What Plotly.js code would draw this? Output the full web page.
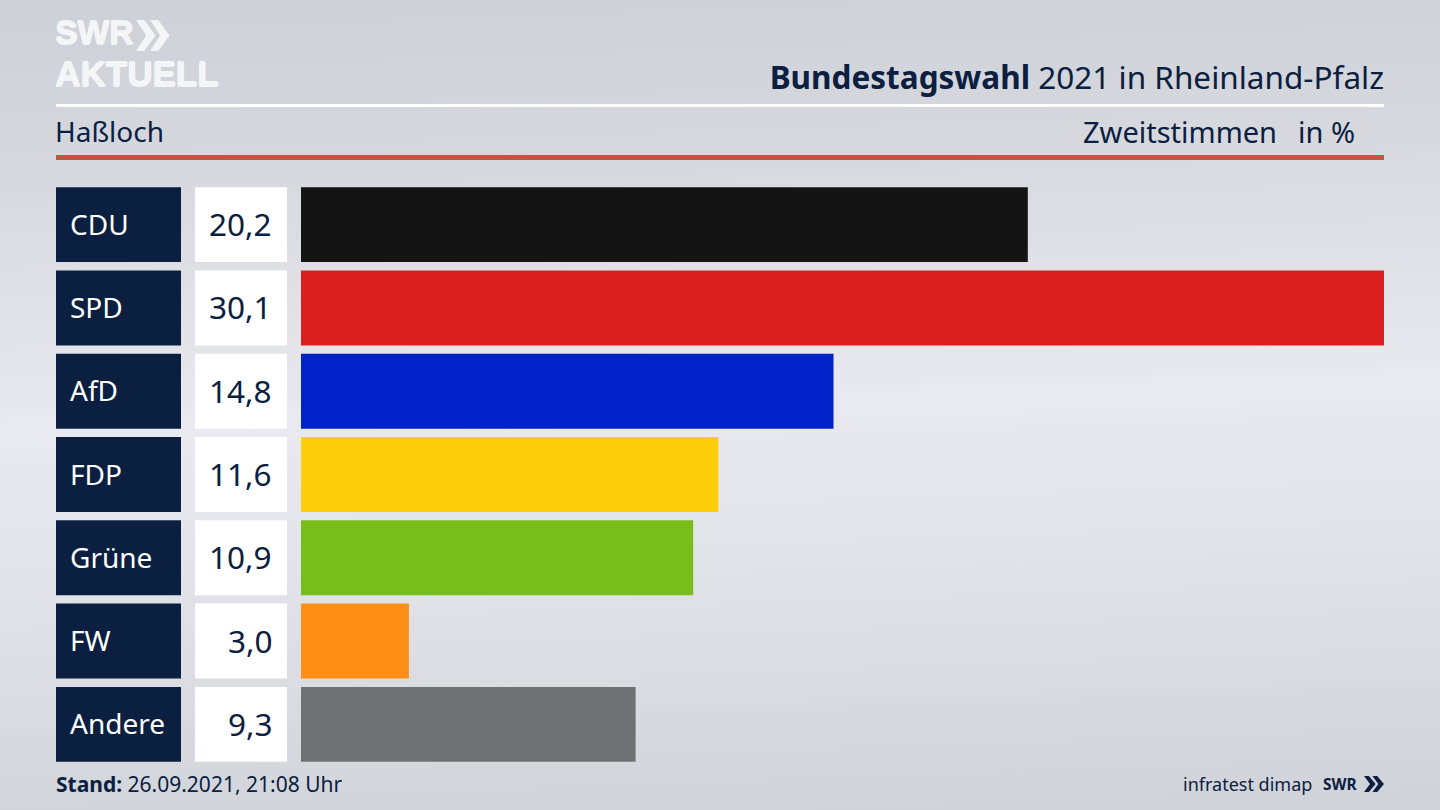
<!DOCTYPE html>
<html><head><meta charset="utf-8">
<script src="https://cdn.plot.ly/plotly-3.0.1.min.js"></script>
<style>
html,body{margin:0;padding:0;width:1440px;height:810px;overflow:hidden;
background:linear-gradient(178deg,#cdd0d7 0%,#d6d8de 20%,#e9eaef 50%,#e4e5ea 65%,#cfd2d8 100%);}
#chart{width:1440px;height:810px;}
</style></head><body><div id="chart"></div>
<script>
const parties = ["CDU","SPD","AfD","FDP","Grüne","FW","Andere"];
const shares = [20.2,30.1,14.8,11.6,10.9,3.0,9.3];
const shareLabels = ["20,2","30,1","14,8","11,6","10,9","3,0","9,3"];
const partyColors = ["#141414","#d9201f","#0022c8","#ffce0a","#78bd1a","#ff8e14","#707172"];

const W=1440,H=810,L=301,R=1384,T=183,B=766;
const NAVY="#0b2040",FONT='"Noto Sans", sans-serif',LOGO='"Liberation Sans", sans-serif';
const px=x=>(x-L)/(R-L), py=y=>1-(y-T)/(B-T);
function text(x,y,t,size,anchor,color,font,shadow){
  const f={size:size,color:color||NAVY,family:font||FONT};
  if(shadow) f.shadow=shadow;
  return {xref:"paper",yref:"paper",x:px(x),y:py(y),text:t,showarrow:false,xanchor:anchor,yanchor:"middle",
          font:f,borderpad:0,borderwidth:0};
}
function rect(x0,x1,y0,y1,color){
  return {type:"rect",xref:"paper",yref:"paper",x0:px(x0),x1:px(x1),y0:py(y0),y1:py(y1),fillcolor:color,line:{width:0},layer:"below"};
}
function chevrons(x,y,h,w,color){
  const one=o=>`M${px(x+o)},${py(y)} L${px(x+o+w*0.42)},${py(y)} L${px(x+o+w)},${py(y+h/2)} L${px(x+o+w*0.42)},${py(y+h)} L${px(x+o)},${py(y+h)} L${px(x+o+w*0.52)},${py(y+h/2)} Z`;
  return {type:"path",xref:"paper",yref:"paper",path:one(0)+" "+one(w*0.72),fillcolor:color,line:{width:0},layer:"below"};
}
const shapes=[
  rect(56,1384,104,107,"#ffffff"),
  rect(56,1384,155,160,"#c9513f"),
  chevrons(136,20,31,19.5,"#f4f5f7"),
  chevrons(1364,776,16,11.6,NAVY)
];
const THICK="1px 0 #f4f5f7, 0 1px #f4f5f7, 0 -1px #f4f5f7";
const annotations=[
  text(55,33,"<b>SWR</b>",33.5,"left","#f4f5f7",LOGO,THICK),
  text(55,73,"<b>AKTUELL</b>",35,"left","#f4f5f7",LOGO,THICK),
  text(55,131,"Haßloch",28,"left"),
  text(1277,131,"Zweitstimmen",29,"right"),
  text(1355,131,"in %",29,"right"),
  text(55.5,784,"<b>Stand:</b> 26.09.2021, 21:08 Uhr",21,"left"),
  text(1312,784,"infratest dimap",18,"right"),
  text(1323,784,"<b>SWR</b>",15.5,"left",NAVY,FONT)
];
parties.forEach((p,i)=>{
  shapes.push({type:"rect",xref:"paper",yref:"y",x0:px(56),x1:px(181),y0:i-0.45,y1:i+0.45,fillcolor:"#0b2040",line:{width:0},layer:"below"});
  shapes.push({type:"rect",xref:"paper",yref:"y",x0:px(195),x1:px(287),y0:i-0.45,y1:i+0.45,fillcolor:"#ffffff",line:{width:0},layer:"below"});
  annotations.push({xref:"paper",yref:"y",x:px(68),y:p,yshift:1,text:p,showarrow:false,xanchor:"left",yanchor:"middle",font:{size:28,color:"#ffffff",family:FONT}});
  annotations.push({xref:"paper",yref:"y",x:px(274),y:p,yshift:1,text:shareLabels[i],showarrow:false,xanchor:"right",yanchor:"middle",font:{size:31.5,color:NAVY,family:FONT}});
});
Plotly.newPlot("chart",[{
  type:"bar",orientation:"h",x:shares,y:parties,width:0.9,
  marker:{color:partyColors,line:{width:0}},hoverinfo:"skip",cliponaxis:false
}],{
  width:W,height:H,autosize:false,
  margin:{l:L,r:W-R,t:T,b:H-B,pad:0},
  paper_bgcolor:"rgba(0,0,0,0)",plot_bgcolor:"rgba(0,0,0,0)",
  title:{text:"<b>Bundestagswahl</b> 2021 in Rheinland-Pfalz",x:1,xanchor:"right",xref:"paper",y:1-78/H,yanchor:"middle",yref:"container",
         font:{size:31.5,color:NAVY,family:FONT}},
  xaxis:{range:[0,30.1],visible:false,fixedrange:true},
  yaxis:{type:"category",categoryorder:"array",categoryarray:parties,range:[6.5,-0.5],visible:false,fixedrange:true},
  showlegend:false,shapes:shapes,annotations:annotations,bargap:0.1
},{displayModeBar:false,staticPlot:true});
</script></body></html>
